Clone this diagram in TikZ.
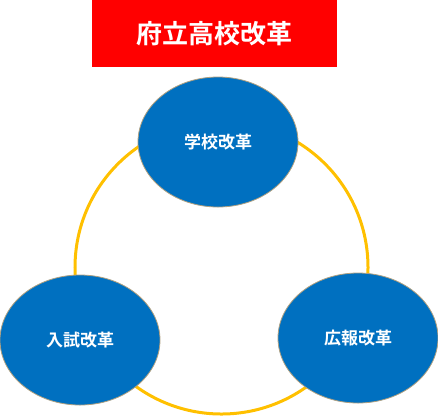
\documentclass[tikz,border=0pt]{standalone}
\usepackage{fontspec}
\usetikzlibrary{shapes.geometric}
\newfontfamily\cjk{Noto Sans CJK JP Bold}
\definecolor{tred}{HTML}{FF0000}
\definecolor{tblue}{HTML}{0070C0}
\definecolor{tyellow}{HTML}{FFC000}
\definecolor{tedge}{HTML}{B0A080}
\begin{document}
\begin{tikzpicture}[x=1bp,y=-1bp,
  bub/.style={ellipse, fill=tblue, draw=tedge, line width=0.8bp, minimum width=160bp, minimum height=130bp, inner sep=0pt, text=white, font=\cjk\fontsize{17bp}{20bp}\selectfont},
  ring/.style={draw=tyellow, line width=3bp}]
\useasboundingbox (0,0) rectangle (438,418);
\node[fill=tred, minimum width=245bp, minimum height=67bp, inner sep=0pt, text=white, font=\cjk\fontsize{26bp}{30bp}\selectfont] (title) at (214.5,33.5) {府立高校改革};
\coordinate (c) at (221.5,267.5);
\draw[ring] (c) circle[radius=146.5bp];
\node[bub] (school) at (218,142) {学校改革};
\node[bub] (exam) at (80,340) {入試改革};
\node[bub] (pr) at (358,338) {広報改革};
\end{tikzpicture}
\end{document}
